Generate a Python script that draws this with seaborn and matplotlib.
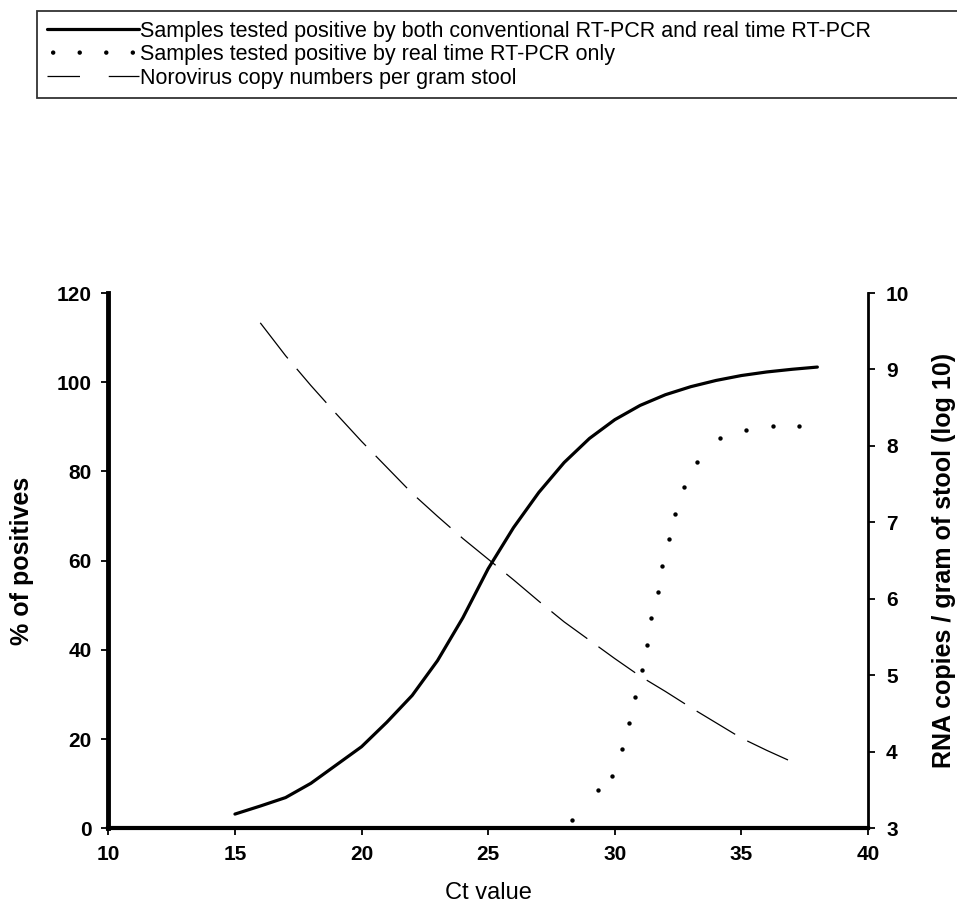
import matplotlib
matplotlib.use("Agg")
import matplotlib.pyplot as plt
from matplotlib.legend_handler import HandlerLine2D
import seaborn as sns
import pandas as pd

# Ct values and curves
ct_both = [15, 16, 17, 18, 19, 20, 21, 22, 23, 24, 25, 26, 27, 28, 29, 30, 31, 32, 33, 34, 35, 36, 37, 38]
pct_both = [3.2, 5.0, 6.9, 10.1, 14.2, 18.3, 23.8, 29.8, 37.6, 47.2, 58.2, 67.4, 75.3, 82.0, 87.4, 91.6,
            94.8, 97.2, 99.0, 100.4, 101.5, 102.3, 102.9, 103.4]

ct_rt = [28.33, 29.32, 29.90, 30.27, 30.57, 30.81, 31.06, 31.26, 31.45, 31.70, 31.87, 32.14, 32.37,
         32.74, 33.25, 34.14, 35.20, 36.23, 37.27]
pct_rt = [1.8, 8.5, 11.8, 17.7, 23.7, 29.4, 35.4, 41.1, 47.2, 53.0, 58.9, 64.8, 70.5, 76.6, 82.2,
          87.6, 89.4, 90.1, 90.1]

ct_copies = [16, 17, 18, 19, 20, 21, 22, 23, 24, 25, 26, 27, 28, 29, 30, 31, 32, 33, 34, 35, 36, 37]
log_copies = [9.61, 9.18, 8.79, 8.42, 8.06, 7.72, 7.38, 7.08, 6.79, 6.52, 6.25, 5.97, 5.70, 5.46,
              5.22, 4.99, 4.79, 4.58, 4.38, 4.18, 4.02, 3.87]

labels = [
    "Samples tested positive by both conventional RT-PCR and real time RT-PCR",
    "Samples tested positive by real time RT-PCR only",
    "Norovirus copy numbers per gram stool",
]

df_both = pd.DataFrame({"ct": ct_both, "pct": pct_both})
df_rt = pd.DataFrame({"ct": ct_rt, "pct": pct_rt})
df_cp = pd.DataFrame({"ct": ct_copies, "log": log_copies})

sns.set_style("white")
plt.rcParams["font.family"] = ["Liberation Sans", "DejaVu Sans"]
plt.rcParams["text.color"] = "black"
plt.rcParams["axes.labelcolor"] = "black"
plt.rcParams["xtick.color"] = "black"
plt.rcParams["ytick.color"] = "black"

fig = plt.figure(figsize=(9.57, 9.06), dpi=100)
ax = fig.add_axes([0.1132, 0.0857, 0.7938, 0.5909])
ax2 = ax.twinx()

sns.lineplot(data=df_both, x="ct", y="pct", ax=ax, color="black", linewidth=2.3, label=labels[0], legend=False)
sns.scatterplot(data=df_rt, x="ct", y="pct", ax=ax, color="black", s=10, marker="o",
                edgecolor="black", linewidth=0, label=labels[1], legend=False)
sns.lineplot(data=df_cp, x="ct", y="log", ax=ax2, color="black", linewidth=0.9,
             linestyle=(0, (36, 11)), label=labels[2], legend=False)

ax.set_xlim(10, 40)
ax.set_ylim(0, 120)
ax2.set_ylim(3, 10)
ax.set_xticks(range(10, 41, 5))
ax.set_yticks(range(0, 121, 20))
ax2.set_yticks(range(3, 11))

for a in (ax, ax2):
    a.spines["top"].set_visible(False)
ax.spines["right"].set_visible(False)
ax.spines["left"].set_linewidth(3.5)
ax.spines["bottom"].set_linewidth(3.0)
ax2.spines["left"].set_visible(False)
ax2.spines["bottom"].set_visible(False)
ax2.spines["right"].set_linewidth(2.0)
for s in ax.spines.values():
    s.set_color("black")
ax2.spines["right"].set_color("black")

ax.tick_params(axis="both", direction="out", length=5, width=1.3, color="black", pad=7, bottom=True, left=True)
ax2.tick_params(axis="y", direction="out", length=5, width=1.3, color="black", pad=8, right=True)
for lab in ax.get_xticklabels() + ax.get_yticklabels() + ax2.get_yticklabels():
    lab.set_fontsize(15)
    lab.set_fontweight("bold")

ax.set_xlabel("Ct value", fontsize=17, labelpad=13)
ax.set_ylabel("% of positives", fontsize=18, fontweight="bold", labelpad=16)
ax2.set_ylabel("RNA copies / gram of stool (log 10)", fontsize=18, fontweight="bold", labelpad=16)


def legend_dashes(legline, orig):
    legline.update_from(orig)
    legline.set_dashes((26, 23))


h1, _ = ax.get_legend_handles_labels()
h2, _ = ax2.get_legend_handles_labels()
leg = fig.legend(h1 + h2, labels, loc="upper left", bbox_to_anchor=(0.0387, 0.893, 0.962, 0.095),
                 mode="expand", fontsize=15.5, frameon=True, fancybox=False, edgecolor="black",
                 handlelength=4.3, handletextpad=0.05, labelspacing=0.12, borderpad=0.45,
                 borderaxespad=0, scatterpoints=4, scatteryoffsets=[0.5],
                 handler_map={h2[0]: HandlerLine2D(update_func=legend_dashes)})
leg.get_frame().set_linewidth(1.3)

fig.savefig("out.png", dpi=100)
